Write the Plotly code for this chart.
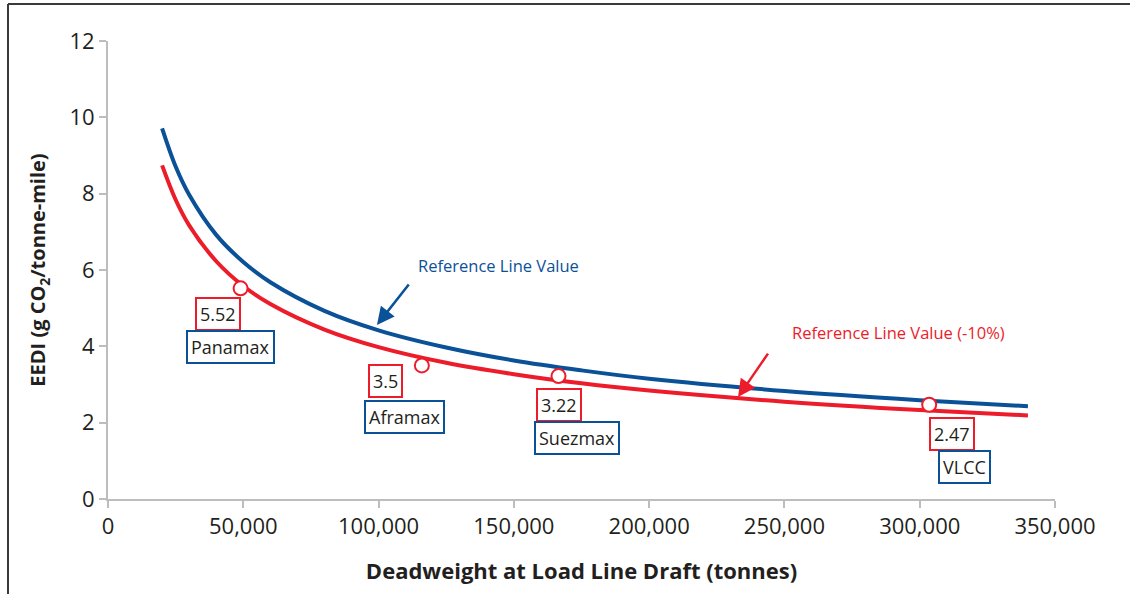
import plotly.graph_objects as go

# Curve samples
dwt = [20000, 25000, 30000, 40000, 50000, 60000, 80000, 100000, 125000,
       150000, 175000, 200000, 250000, 300000, 340000]
ref_line = [9.71, 8.71, 7.97, 6.92, 6.21, 5.68, 4.93, 4.42, 3.97,
            3.63, 3.37, 3.15, 2.83, 2.59, 2.43]
ref_line_10 = [8.74, 7.84, 7.17, 6.23, 5.58, 5.11, 4.44, 3.98, 3.57,
               3.27, 3.03, 2.84, 2.55, 2.33, 2.19]

# Ship points
ship_names = ["Panamax", "Aframax", "Suezmax", "VLCC"]
ship_dwt = [49000, 116000, 166500, 303500]
ship_eedi = [5.52, 3.5, 3.22, 2.47]
ship_value_text = ["5.52", "3.5", "3.22", "2.47"]

x_ticks = [0, 50000, 100000, 150000, 200000, 250000, 300000, 350000]
x_tick_text = ["0", "50,000", "100,000", "150,000", "200,000", "250,000", "300,000", "350,000"]
y_ticks = [0, 2, 4, 6, 8, 10, 12]

BLUE = "#0b5197"
RED = "#ec1c2a"
TXT = "#231f20"
GRID = "#bdbdbd"
FONT = "Open Sans"

fig = go.Figure()
fig.add_trace(go.Scatter(x=dwt, y=ref_line, mode="lines",
                         line=dict(color=BLUE, width=4, shape="spline"),
                         showlegend=False, hoverinfo="skip"))
fig.add_trace(go.Scatter(x=dwt, y=ref_line_10, mode="lines",
                         line=dict(color=RED, width=4, shape="spline"),
                         showlegend=False, hoverinfo="skip"))
fig.add_trace(go.Scatter(x=ship_dwt, y=ship_eedi, mode="markers",
                         marker=dict(symbol="circle", size=14, color="white",
                                     line=dict(color=RED, width=2)),
                         showlegend=False))

# label box positions (layout)
value_pos = [(40660, 4.85), (102380, 3.09), (166690, 2.46), (311940, 1.70)]
name_pos = [(45090, 3.98), (109400, 2.15), (173340, 1.60), (316380, 0.84)]

annotations = []
for i in range(len(ship_names)):
    vx, vy = value_pos[i]
    nx, ny = name_pos[i]
    annotations.append(dict(x=vx, y=vy, xref="x", yref="y", text=ship_value_text[i],
                            showarrow=False, font=dict(family=FONT, size=18, color=TXT),
                            bordercolor=RED, borderwidth=2, borderpad=3, bgcolor="white"))
    annotations.append(dict(x=nx, y=ny, xref="x", yref="y", text=ship_names[i],
                            showarrow=False, font=dict(family=FONT, size=18, color=TXT),
                            bordercolor=BLUE, borderwidth=2, borderpad=3, bgcolor="white"))

annotations.append(dict(x=144140, y=6.13, xref="x", yref="y", text="Reference Line Value",
                        showarrow=False, font=dict(family=FONT, size=16.5, color=BLUE)))
annotations.append(dict(x=99400, y=4.56, xref="x", yref="y", text="", showarrow=True,
                        ax=33, ay=-42, arrowhead=2, arrowsize=1.4, arrowwidth=2.5,
                        arrowcolor=BLUE))
annotations.append(dict(x=291990, y=4.35, xref="x", yref="y", text="Reference Line Value (-10%)",
                        showarrow=False, font=dict(family=FONT, size=16.5, color=RED)))
annotations.append(dict(x=232850, y=2.67, xref="x", yref="y", text="", showarrow=True,
                        ax=31, ay=-45, arrowhead=2, arrowsize=1.4, arrowwidth=2.5,
                        arrowcolor=RED))

fig.update_layout(
    width=1130, height=594,
    margin=dict(l=108, r=75, t=41, b=95, autoexpand=False),
    paper_bgcolor="white", plot_bgcolor="white",
    font=dict(family=FONT, color=TXT),
    annotations=annotations,
    shapes=[
        dict(type="line", xref="paper", yref="paper", x0=-0.1056, x1=1.1, y0=1.0808, y1=1.0808,
             line=dict(color="#3a3a3a", width=2)),
        dict(type="line", xref="paper", yref="paper", x0=-0.1056, x1=-0.1056, y0=1.0808, y1=-0.22,
             line=dict(color="#3a3a3a", width=2)),
    ],
)
fig.update_xaxes(range=[0, 350000], tickvals=x_ticks, ticktext=x_tick_text,
                 showgrid=False, zeroline=False, showline=True, linecolor=GRID, linewidth=2,
                 ticks="outside", ticklen=7, tickcolor=GRID, tickwidth=2, automargin=False,
                 tickfont=dict(family=FONT, size=22, color=TXT),
                 title=dict(text="<b>Deadweight at Load Line Draft (tonnes)</b>",
                            font=dict(family=FONT, size=22, color=TXT), standoff=24))
fig.update_yaxes(range=[0, 12], tickvals=y_ticks,
                 showgrid=False, zeroline=False, showline=True, linecolor=GRID, linewidth=2,
                 ticks="outside", ticklen=7, tickcolor=GRID, tickwidth=2, automargin=False,
                 tickfont=dict(family=FONT, size=22, color=TXT),
                 title=dict(text="<b>EEDI (g CO<sub>2</sub>/tonne-mile)</b>",
                            font=dict(family=FONT, size=20, color=TXT), standoff=18))

fig.write_html("out.html", config={"displayModeBar": False},
               post_script="document.body.style.margin='0';document.body.style.overflow='hidden';")
